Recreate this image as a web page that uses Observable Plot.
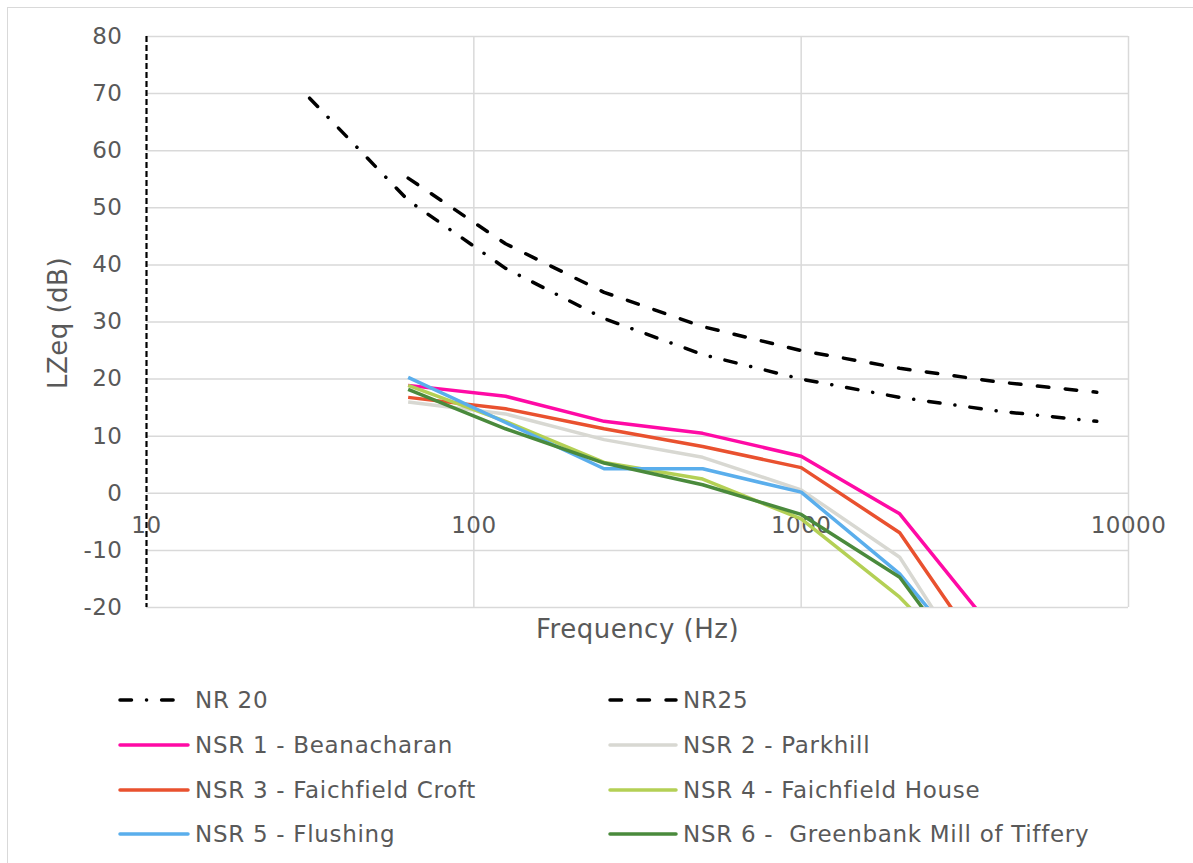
<!DOCTYPE html>
<html>
<head>
<meta charset="utf-8">
<script src="https://cdn.jsdelivr.net/npm/d3@7"></script>
<script src="https://cdn.jsdelivr.net/npm/@observablehq/plot@0.6"></script>
<style>
  html, body { margin: 0; padding: 0; background: #fff; }
  body { width: 1193px; height: 863px; overflow: hidden; position: relative; font-family: "DejaVu Sans", Verdana, sans-serif; }
  #border { position: absolute; left: 7px; top: 7px; width: 1300px; height: 1000px; border: 1.5px solid #d9d9d9; box-sizing: border-box; }
  #chart { position: absolute; left: 0; top: 0; }
  #chart text { letter-spacing: 0.5px; }
  #legend { position: absolute; left: 0; top: 0; width: 1193px; height: 863px; }
  .item { position: absolute; height: 30px; display: flex; align-items: center; color: #595959; font-size: 23px; letter-spacing: 0.7px; white-space: pre; }
  .item svg { margin-right: 5px; }
</style>
</head>
<body>
<div id="border"></div>
<div id="chart"></div>
<div id="legend"></div>
<script>
// ---- data ----
const nrFreqs = [31.5, 63, 125, 250, 500, 1000, 2000, 4000, 8000];
const nr20 = [69.2, 51.3, 39.4, 30.6, 24.3, 20.0, 16.8, 14.4, 12.6];
const nr25 = [null, 55.2, 43.7, 35.2, 29.2, 25.0, 21.9, 19.5, 17.7];

const nsrFreqs = [63, 125, 250, 500, 1000, 2000, 4000];
const nsr1 = [18.9, 17.0, 12.6, 10.5, 6.5, -3.6, -25];
const nsr2 = [16.0, 13.9, 9.4, 6.3, 0.6, -11.2, -38];
const nsr3 = [16.8, 14.8, 11.3, 8.2, 4.5, -6.9, -32];
const nsr4 = [18.9, 12.6, 5.4, 2.5, -4.5, -18.2, -36];
const nsr5 = [20.3, 12.4, 4.3, 4.3, 0.2, -14.1, -35];
const nsr6 = [18.2, 11.3, 5.3, 1.5, -3.7, -14.7, -38];

const seriesNames = ["NR 20", "NR25", "NSR 1 - Beanacharan", "NSR 2 - Parkhill", "NSR 3 - Faichfield Croft", "NSR 4 - Faichfield House", "NSR 5 - Flushing", "NSR 6 -  Greenbank Mill of Tiffery"];
const seriesColors = ["#000000", "#000000", "#ff0aa5", "#d8d8d2", "#e9512f", "#b4d055", "#5aaeec", "#4a8a3c"];
const seriesDash = ["11.5,15,0.1,15", "11.5,16.5", null, null, null, null, null, null];

const xTicks = [10, 100, 1000, 10000];
const yTicks = [-20, -10, 0, 10, 20, 30, 40, 50, 60, 70, 80];

// ---- build rows ----
const seriesValues = [nr20, nr25, nsr1, nsr2, nsr3, nsr4, nsr5, nsr6];
const seriesX = [nrFreqs, nrFreqs, nsrFreqs, nsrFreqs, nsrFreqs, nsrFreqs, nsrFreqs, nsrFreqs];
const drawOrder = [2, 3, 4, 5, 6, 7, 0, 1];

const textColor = "#595959";
const gridColor = "#d9d9d9";

const lineMarks = drawOrder.map(i => {
  const rows = seriesX[i].map((f, j) => ({f, v: seriesValues[i][j]})).filter(d => d.v != null);
  return Plot.line(rows, {
    x: "f", y: "v",
    stroke: seriesColors[i],
    strokeWidth: 3.5,
    strokeDasharray: seriesDash[i] || undefined,
    strokeLinecap: seriesDash[i] ? "round" : "butt",
    strokeLinejoin: "round",
    clip: true
  });
});

const chart = Plot.plot({
  width: 1193,
  height: 650,
  marginLeft: 146,
  marginRight: 65,
  marginTop: 36,
  marginBottom: 43,
  style: {background: "transparent", fontFamily: "'DejaVu Sans', Verdana, sans-serif", overflow: "visible"},
  x: {type: "log", domain: [10, 10000]},
  y: {domain: [-20, 80]},
  marks: [
    Plot.gridY(yTicks, {stroke: gridColor, strokeOpacity: 1, strokeWidth: 1.5}),
    Plot.gridX(xTicks.slice(1), {stroke: gridColor, strokeOpacity: 1, strokeWidth: 1.5}),
    Plot.axisY(yTicks, {tickSize: 0, tickPadding: 24, fontSize: 23, fill: textColor, label: null, tickFormat: d => String(d)}),
    Plot.axisX([], {label: null, tickSize: 0}),
    Plot.text(xTicks, {x: d => d, y: () => 0, text: d => String(d), dy: 32, fontSize: 23, fill: textColor}),
    Plot.text(["Frequency (Hz)"], {frameAnchor: "bottom", dy: 30, fontSize: 26, fill: textColor}),
    Plot.text(["LZeq (dB)"], {frameAnchor: "left", textAnchor: "middle", dx: -88, dy: 1, rotate: -90, fontSize: 26, fill: textColor}),
    Plot.ruleX([10], {stroke: "#000", strokeWidth: 2.2, strokeDasharray: "6,3"}),
    ...lineMarks
  ]
});
document.getElementById("chart").appendChild(chart);

// ---- legend ----
const legend = document.getElementById("legend");
const legendPos = [
  {left: 118, top: 700, w: 72}, {left: 608, top: 700, w: 70},
  {left: 118, top: 745, w: 72}, {left: 608, top: 745, w: 70},
  {left: 118, top: 790, w: 72}, {left: 608, top: 790, w: 70},
  {left: 118, top: 834, w: 72}, {left: 608, top: 834, w: 70}
];
seriesNames.forEach((name, i) => {
  const p = legendPos[i];
  const div = document.createElement("div");
  div.className = "item";
  div.style.left = p.left + "px";
  div.style.top = (p.top - 15) + "px";
  const ns = "http://www.w3.org/2000/svg";
  const svg = document.createElementNS(ns, "svg");
  svg.setAttribute("width", p.w);
  svg.setAttribute("height", 10);
  const ln = document.createElementNS(ns, "line");
  ln.setAttribute("x1", 2); ln.setAttribute("x2", p.w - 2);
  ln.setAttribute("y1", 5); ln.setAttribute("y2", 5);
  ln.setAttribute("stroke", seriesColors[i]);
  ln.setAttribute("stroke-width", 3.5);
  if (seriesDash[i]) {
    ln.setAttribute("stroke-dasharray", seriesDash[i]);
  }
  ln.setAttribute("stroke-linecap", "round");
  svg.appendChild(ln);
  div.appendChild(svg);
  const span = document.createElement("span");
  span.textContent = name;
  div.appendChild(span);
  legend.appendChild(div);
});
</script>
</body>
</html>
